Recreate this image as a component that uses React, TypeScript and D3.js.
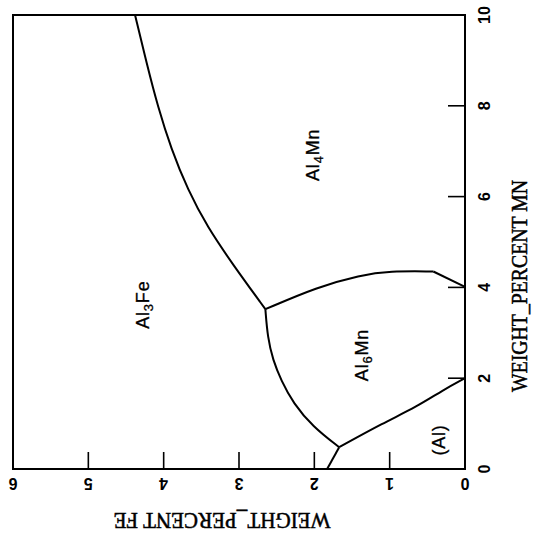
import React from "react";
import * as d3 from "d3";

// Fe (horizontal, reversed) and Mn (vertical) weight percent
const feTicks = [0, 1, 2, 3, 4, 5, 6];
const mnTicks = [0, 2, 4, 6, 8, 10];

// Boundary curves as [Fe, Mn]
const al3feAl4mn: [number, number][] = [
  [4.38, 10.0], [4.22, 8.9], [4.08, 8.0], [3.9, 7.05], [3.68, 6.15], [3.42, 5.33], [3.08, 4.5], [2.65, 3.52],
];
const al6mnAl4mn: [number, number][] = [
  [2.65, 3.52], [1.96, 4.01], [1.39, 4.27], [1.0, 4.36], [0.42, 4.35],
];
const al6mnAl4mnEnd: [number, number][] = [
  [0.42, 4.35], [0.0, 4.01],
];
const al3feAl6mn: [number, number][] = [
  [2.65, 3.52], [2.62, 2.9], [2.55, 2.4], [2.44, 1.95], [2.28, 1.45], [2.02, 0.93], [1.67, 0.48],
];
const al3feAl: [number, number][] = [
  [1.67, 0.48], [1.83, 0.0],
];
const al6mnAl: [number, number][] = [
  [1.67, 0.48], [1.09, 1.01], [0.64, 1.37], [0.29, 1.74], [0.0, 2.0],
];
const smoothCurves = [al3feAl4mn, al6mnAl4mn, al3feAl6mn, al6mnAl];
const straightCurves = [al6mnAl4mnEnd, al3feAl];

// Region labels: [base, subscript, rest, Fe, Mn]
const regionLabels: [string, string, string, number, number][] = [
  ["Al", "3", "Fe", 4.27, 3.62],
  ["Al", "4", "Mn", 2.02, 6.92],
  ["Al", "6", "Mn", 1.37, 2.51],
  ["(Al)", "", "", 0.34, 0.64],
];

export default function App() {
  const W = 536, H = 541;
  const x = d3.scaleLinear().domain([6, 0]).range([13, 465]);
  const y = d3.scaleLinear().domain([0, 10]).range([469, 15]);
  const smooth = d3
    .line<[number, number]>()
    .x((d) => x(d[0]))
    .y((d) => y(d[1]))
    .curve(d3.curveBasis);
  const straight = d3
    .line<[number, number]>()
    .x((d) => x(d[0]))
    .y((d) => y(d[1]));

  const sans = "'Liberation Sans', Arial, sans-serif";
  const serif = "'Liberation Serif', 'Times New Roman', serif";

  return (
    <svg
      width={W}
      height={H}
      style={{ position: "absolute", left: 0, top: 0, background: "#fff" }}
    >
      <rect x={0} y={0} width={W} height={H} fill="#fff" />
      {/* frame */}
      <rect
        x={x(6)}
        y={y(10)}
        width={x(0) - x(6)}
        height={y(0) - y(10)}
        fill="none"
        stroke="#000"
        strokeWidth={2}
      />
      {/* bottom ticks */}
      {feTicks
        .filter((t) => t > 0 && t < 6)
        .map((t) => (
          <line key={"fb" + t} x1={x(t)} x2={x(t)} y1={y(0)} y2={y(0) - 17} stroke="#000" strokeWidth={1.6} />
        ))}
      {/* right ticks */}
      {mnTicks
        .filter((t) => t > 0 && t < 10)
        .map((t) => (
          <line key={"mr" + t} x1={x(0)} x2={x(0) - 17} y1={y(t)} y2={y(t)} stroke="#000" strokeWidth={1.6} />
        ))}
      {/* bottom tick labels (upside down) */}
      {feTicks.map((t) => (
        <text
          key={"fl" + t}
          transform={`translate(${x(t)},483) rotate(180)`}
          textAnchor="middle"
          dominantBaseline="central"
          fontFamily={sans}
          fontWeight="bold"
          fontSize={16}
        >
          {t}
        </text>
      ))}
      {/* right tick labels */}
      {mnTicks.map((t) => (
        <text
          key={"ml" + t}
          transform={`translate(484,${y(t)}) rotate(-90)`}
          textAnchor="middle"
          dominantBaseline="central"
          fontFamily={sans}
          fontWeight="bold"
          fontSize={16}
        >
          {t}
        </text>
      ))}
      {/* curves */}
      {smoothCurves.map((c, i) => (
        <path key={"c" + i} d={smooth(c) || ""} fill="none" stroke="#000" strokeWidth={2} strokeLinejoin="round" />
      ))}
      {straightCurves.map((c, i) => (
        <path key={"s" + i} d={straight(c) || ""} fill="none" stroke="#000" strokeWidth={2} strokeLinejoin="round" />
      ))}
      {/* region labels */}
      {regionLabels.map(([a, s, b, fe, mn], i) => (
        <text
          key={"r" + i}
          transform={`translate(${x(fe)},${y(mn)}) rotate(-90)`}
          textAnchor="middle"
          dominantBaseline="central"
          fontFamily={sans}
          fontSize={18}
          letterSpacing={0.8}
          stroke="#000"
          strokeWidth={0.3}
        >
          {a}
          {s ? (
            <tspan fontSize={13} dy={5}>
              {s}
            </tspan>
          ) : null}
          {b ? <tspan dy={s ? -5 : 0}>{b}</tspan> : null}
        </text>
      ))}
      {/* axis titles */}
      <text
        transform={`translate(222,520) rotate(180)`}
        textAnchor="middle"
        dominantBaseline="central"
        fontFamily={serif}
        fontSize={23}
        textLength={217}
        lengthAdjust="spacingAndGlyphs"
        stroke="#000"
        strokeWidth={0.5}
      >
        WEIGHT_PERCENT FE
      </text>
      <text
        transform={`translate(519,286) rotate(-90)`}
        textAnchor="middle"
        dominantBaseline="central"
        fontFamily={serif}
        fontSize={23}
        textLength={212}
        lengthAdjust="spacingAndGlyphs"
        stroke="#000"
        strokeWidth={0.5}
      >
        WEIGHT_PERCENT MN
      </text>
    </svg>
  );
}
